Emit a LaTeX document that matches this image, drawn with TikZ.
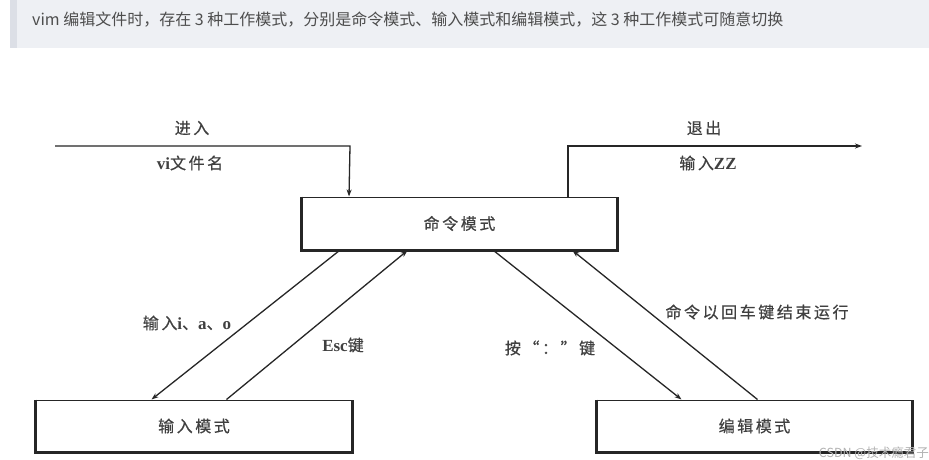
\documentclass[tikz,border=0pt]{standalone}
\usepackage{fontspec}
\newfontfamily\cjk{Noto Sans CJK SC}
\newfontfamily\cjklab[LetterSpace=16,FakeBold=0.6]{Noto Sans CJK SC}
\newfontfamily\latlab{Liberation Serif Bold}
\newcommand{\lt}[1]{{\latlab\fontsize{17pt}{18pt}\selectfont #1}}
\usetikzlibrary{arrows.meta}
\definecolor{barbg}{HTML}{EEF0F4}
\definecolor{barleft}{HTML}{DCDFE6}
\definecolor{bartext}{HTML}{4D4D4D}
\tikzset{
  modebox/.style={draw=black!85, line width=1pt, minimum width=315pt, minimum height=53pt,
    inner sep=0pt, font=\cjklab\fontsize{16pt}{18pt}\selectfont, text=black!75},
  lab/.style={font=\cjklab\fontsize{16pt}{18pt}\selectfont, text=black!75, inner sep=0pt},
  conn/.style={draw=black!85, line width=1.3pt, -{Stealth[length=7pt,width=5pt]}},
  thickside/.style={draw=black!85, line width=2.6pt}
}
\begin{document}
\begin{tikzpicture}[x=1pt,y=-1pt]
\useasboundingbox (0,0) rectangle (929,460);
\fill[white] (0,0) rectangle (929,460);
% top bar
\fill[barbg] (10,0) rectangle (929,48);
\fill[barleft] (10,0) rectangle (17,48);
\node[anchor=west, inner sep=0pt, font=\cjk\fontsize{16pt}{17pt}\selectfont, text=bartext] (title) at (32,20)
  {vim 编辑文件时，存在 3 种工作模式，分别是命令模式、输入模式和编辑模式，这 3 种工作模式可随意切换};
% boxes
\node[modebox] (cmd) at (459.5,223.5) {命令模式};
\node[modebox, minimum height=52pt, minimum width=316pt] (inp) at (194,426) {输入模式};
\node[modebox, minimum height=52pt] (edt) at (754.5,426) {编辑模式};
\foreach \b in {cmd,inp,edt}{
  \draw[thickside] (\b.north west) -- (\b.south west) -- (\b.south east) -- (\b.north east);
}
% entry / exit
\coordinate (inStart) at (55,146);
\coordinate (inCorner) at (350,146);
\coordinate (cmdTopIn) at ([xshift=47.5pt]cmd.north west);
\draw[conn] (inStart) -- (inCorner) -- (cmdTopIn);
\coordinate (cmdTopOut) at ([xshift=-49.5pt]cmd.north east);
\coordinate (outCorner) at (568,146);
\coordinate (outEnd) at (862,146);
\draw[conn] (cmdTopOut) -- (outCorner) -- (outEnd);
\node[lab] (lin1) at (192,128) {进入};
\node[lab] (lin2) at (190,163) {\lt{vi}文件名};
\node[lab] (lout1) at (704,128) {退出};
\node[lab] (lout2) at (708,163) {输入\lt{ZZ}};
% diagonals
\coordinate (c1) at ([xshift=38pt]cmd.south west);
\coordinate (i1) at ([xshift=116pt]inp.north west);
\draw[conn] (c1) -- (i1);
\coordinate (i2) at ([xshift=191pt]inp.north west);
\coordinate (c2) at ([xshift=106pt]cmd.south west);
\draw[conn] (i2) -- (c2);
\coordinate (c3) at ([xshift=-124pt]cmd.south east);
\coordinate (e3) at ([xshift=85pt]edt.north west);
\draw[conn] (c3) -- (e3);
\coordinate (e4) at ([xshift=161pt]edt.north west);
\coordinate (c4) at ([xshift=-45pt]cmd.south east);
\draw[conn] (e4) -- (c4);
\node[lab] (l1) at (187,323) {输入\lt{i}、\lt{a}、\lt{o}};
\node[lab] (l2) at (343,345) {\lt{Esc}键};
\node[lab] (l3) at (550,348) {按“：”键};
\node[lab] (l4) at (757,312) {命令以回车键结束运行};
% watermark
\node[anchor=east, inner sep=0pt, font=\cjk\fontsize{12.5pt}{13pt}\selectfont, text=black!30] (wm) at (929,453) {CSDN @技术瘾君子};
\end{tikzpicture}
\end{document}
